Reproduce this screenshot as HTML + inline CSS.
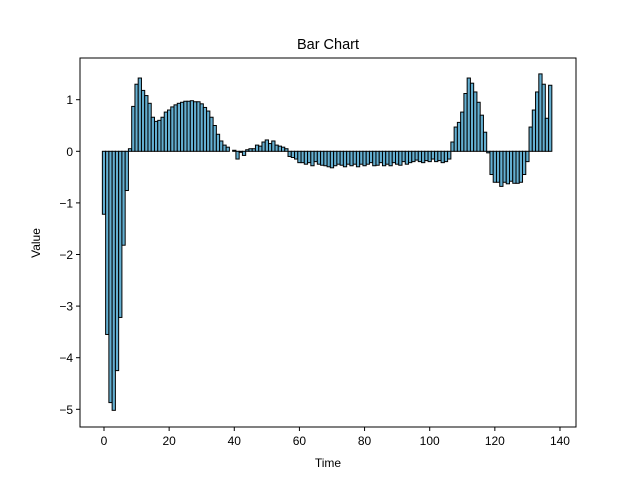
<!DOCTYPE html>
<html><head><meta charset="utf-8"><style>
body{margin:0;background:#fff;}
svg text{font-family:"Liberation Sans","DejaVu Sans",sans-serif;fill:#000;}
</style></head><body>
<svg id="chart" width="640" height="480" xmlns="http://www.w3.org/2000/svg">
<rect width="640" height="480" fill="#fff"/>
<text x="328" y="49" font-size="14.5" text-anchor="middle">Bar Chart</text>
<g id="bars"></g>
<g id="axes"></g>
<text x="328" y="467" font-size="12" text-anchor="middle">Time</text>
<text x="40" y="243" font-size="12" text-anchor="middle" transform="rotate(-90 40 243)">Value</text>
</svg>
<script>
const values = [
-1.22,-3.55,-4.87,-5.02,-4.25,-3.22,-1.82,-0.76,0.05,0.87,
1.3,1.42,1.18,1.08,0.93,0.66,0.58,0.6,0.66,0.76,
0.8,0.86,0.9,0.93,0.95,0.97,0.97,0.98,0.96,0.96,
0.92,0.85,0.78,0.66,0.5,0.33,0.2,0.12,0.08,0.0,0.02,
-0.15,-0.02,-0.08,0.03,0.05,0.05,0.12,0.1,0.18,0.22,
0.15,0.2,0.12,0.1,0.08,0.05,-0.1,-0.12,-0.15,-0.22,
-0.22,-0.25,-0.22,-0.28,-0.2,-0.25,-0.27,-0.28,-0.3,-0.32,
-0.28,-0.25,-0.27,-0.3,-0.25,-0.28,-0.25,-0.3,-0.25,-0.28,
-0.25,-0.22,-0.28,-0.27,-0.22,-0.28,-0.25,-0.28,-0.22,-0.25,
-0.27,-0.2,-0.25,-0.22,-0.2,-0.17,-0.2,-0.22,-0.18,-0.2,
-0.15,-0.2,-0.18,-0.22,-0.2,-0.15,0.18,0.47,0.56,
0.76,1.12,1.42,1.32,1.15,0.95,0.7,0.37,-0.03,-0.45,
-0.6,-0.6,-0.68,-0.6,-0.63,-0.58,-0.62,-0.62,-0.6,-0.45,
-0.2,0.47,0.8,1.15,1.5,1.3,0.64,1.28
];
const xTicks = [0,20,40,60,80,100,120,140];
const yTicks = [1,0,-1,-2,-3,-4,-5];
const L=80,R=576,T=58,B=427;
const x0=104, xs=3.257, y0=151.3, ys=51.6;
function X(v){return x0+v*xs;}
function Y(v){return y0-v*ys;}
const NS="http://www.w3.org/2000/svg";
const bars=document.getElementById('bars');
values.forEach((v,i)=>{
  const r=document.createElementNS(NS,'rect');
  const w=xs;
  r.setAttribute('x',X(i)-w/2);
  r.setAttribute('width',w);
  r.setAttribute('y',Math.min(Y(v),Y(0)));
  r.setAttribute('height',Math.abs(Y(v)-Y(0)));
  r.setAttribute('fill','#64afd1');
  r.setAttribute('stroke','#000');
  r.setAttribute('stroke-width','1');
  
  
  bars.appendChild(r);
});
const axes=document.getElementById('axes');
const frame=document.createElementNS(NS,'rect');
frame.setAttribute('x',L);frame.setAttribute('y',T);
frame.setAttribute('width',R-L);frame.setAttribute('height',B-T);
frame.setAttribute('fill','none');frame.setAttribute('stroke','#000');frame.setAttribute('stroke-width','1');


axes.appendChild(frame);
xTicks.forEach(t=>{
  const l=document.createElementNS(NS,'line');
  l.setAttribute('x1',X(t));l.setAttribute('x2',X(t));l.setAttribute('y1',B);l.setAttribute('y2',B+4);
  l.setAttribute('stroke','#000');
  
  
  axes.appendChild(l);
  const tx=document.createElementNS(NS,'text');
  tx.setAttribute('x',X(t));tx.setAttribute('y',B+18);tx.setAttribute('font-size','12');tx.setAttribute('text-anchor','middle');
  tx.textContent=t;
  
  
  axes.appendChild(tx);
});
yTicks.forEach(t=>{
  const l=document.createElementNS(NS,'line');
  l.setAttribute('x1',L-4);l.setAttribute('x2',L);l.setAttribute('y1',Y(t));l.setAttribute('y2',Y(t));
  l.setAttribute('stroke','#000');
  
  
  axes.appendChild(l);
  const tx=document.createElementNS(NS,'text');
  tx.setAttribute('x',L-7);tx.setAttribute('y',Y(t)+4.5);tx.setAttribute('font-size','12');tx.setAttribute('text-anchor','end');
  tx.textContent=t<0?'\u2212'+Math.abs(t):t;
  
  
  axes.appendChild(tx);
});
</script>
</body></html>
